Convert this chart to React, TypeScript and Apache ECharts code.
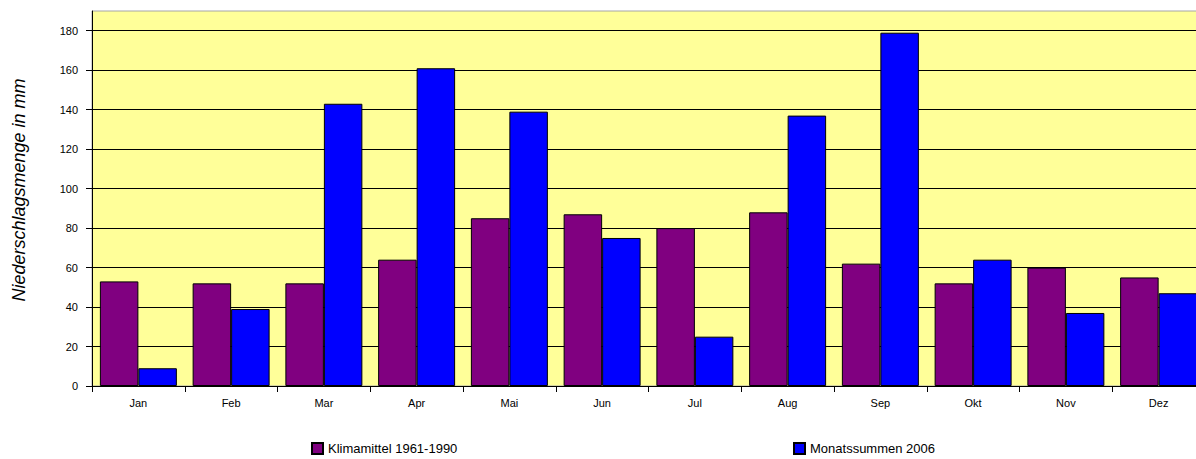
import React, { useEffect, useRef } from "react";
import * as echarts from "echarts";

const months = ["Jan", "Feb", "Mar", "Apr", "Mai", "Jun", "Jul", "Aug", "Sep", "Okt", "Nov", "Dez"];
const klimamittel = [53, 52, 52, 64, 85, 87, 80, 88, 62, 52, 60, 55];
const monatssummen = [9, 39, 143, 161, 139, 75, 25, 137, 179, 64, 37, 47];
const yTicks = [0, 20, 40, 60, 80, 100, 120, 140, 160, 180];
const seriesNames = ["Klimamittel 1961-1990", "Monatssummen 2006"];
const yAxisTitle = "Niederschlagsmenge in mm";

const FONT = "'Liberation Sans', Arial, sans-serif";

export default function App() {
  const ref = useRef<HTMLDivElement>(null);
  useEffect(() => {
    if (!ref.current) return;
    const chart = echarts.init(ref.current, undefined, { renderer: "svg" });
    const legendCommon = {
      top: 442,
      padding: 0,
      itemWidth: 11,
      itemHeight: 11,
      itemGap: 5,
      icon: "rect",
      textStyle: { fontFamily: FONT, fontSize: 13, color: "#000" },
    };
    chart.setOption({
      animation: false,
      backgroundColor: "#ffffff",
      grid: {
        left: 92,
        top: 11,
        right: 0,
        bottom: 73,
        show: true,
        backgroundColor: "#FFFF99",
        borderColor: "#a6a6a6",
        borderWidth: 1,
      },
      graphic: [
        {
          type: "text",
          x: 19,
          y: 190,
          rotation: Math.PI / 2,
          style: {
            text: yAxisTitle,
            align: "center",
            verticalAlign: "middle",
            fontFamily: FONT,
            fontSize: 18,
            fontStyle: "italic",
            fill: "#000",
          },
        },
      ],
      legend: [
        { ...legendCommon, data: [seriesNames[0]], left: 311 },
        { ...legendCommon, data: [seriesNames[1]], left: 793 },
      ],
      xAxis: {
        type: "category",
        data: months,
        boundaryGap: true,
        axisLine: { show: true, lineStyle: { color: "#000", width: 1 } },
        axisTick: { show: true, length: 6, lineStyle: { color: "#000" } },
        axisLabel: { fontFamily: FONT, fontSize: 11, color: "#000", margin: 11 },
        splitLine: { show: false },
      },
      yAxis: {
        type: "value",
        min: 0,
        max: 190,
        interval: 20,
        axisLine: { show: true, lineStyle: { color: "#000", width: 1 } },
        axisTick: { show: true, length: 6, lineStyle: { color: "#000" }, customValues: yTicks },
        axisLabel: {
          fontFamily: FONT,
          fontSize: 11,
          color: "#000",
          margin: 14,
          customValues: yTicks,
        },
        splitLine: {
          show: true,
          lineStyle: { color: "#000", width: 1 },
        },
      },
      series: [
        {
          name: seriesNames[0],
          type: "bar",
          data: klimamittel,
          barGap: "0%",
          barCategoryGap: "17%",
          itemStyle: { color: "#800080", borderColor: "#000", borderWidth: 1 },
        },
        {
          name: seriesNames[1],
          type: "bar",
          data: monatssummen,
          barGap: "0%",
          barCategoryGap: "17%",
          itemStyle: { color: "#0000FF", borderColor: "#000", borderWidth: 1 },
        },
      ],
    });
    return () => chart.dispose();
  }, []);
  return (
    <div style={{ position: "fixed", left: 0, top: 0, width: 1196, height: 459, overflow: "hidden" }}>
      <div ref={ref} style={{ width: 1205, height: 459 }} />
    </div>
  );
}
